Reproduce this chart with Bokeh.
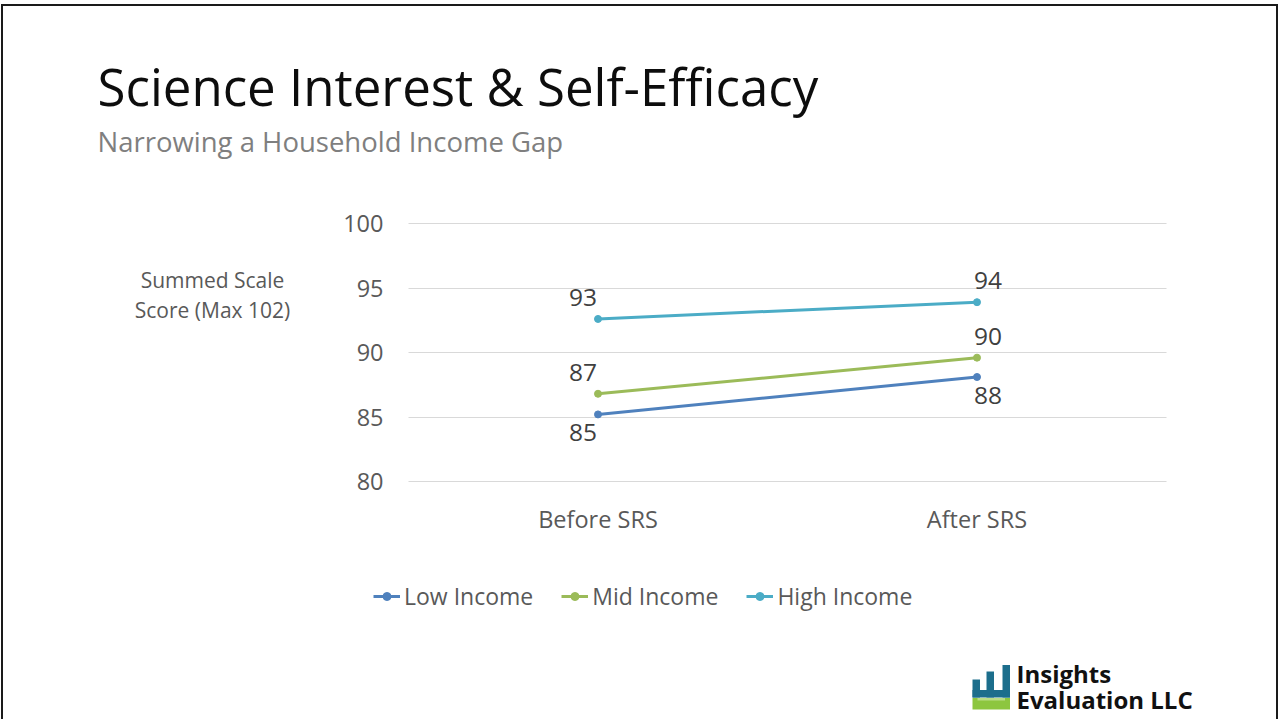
from bokeh.plotting import figure
from bokeh.models import (ColumnDataSource, Range1d, Label, LabelSet, Legend, LegendItem,
                          BoxAnnotation, FixedTicker, Grid, InlineStyleSheet)
from bokeh.core.properties import value
from bokeh.embed import file_html
from bokeh.resources import INLINE

# ---- data ----
categories = ["Before SRS", "After SRS"]
low_income = [85.2, 88.1]
mid_income = [86.8, 89.6]
high_income = [92.6, 93.9]
series_names = ["Low Income", "Mid Income", "High Income"]
series_colors = ["#4F81BD", "#9BBB59", "#4BACC6"]
y_ticks = [80, 85, 90, 95, 100]
y_min, y_max = 80, 100

FONT = "Open Sans"
W, H = 1279, 719

# ---- layout geometry (page pixels) ----
FL, FT = 70, 45            # frame left / top (frame runs to the right and bottom edge)
PLOT_L, PLOT_R = 408, 1166  # chart area
PLOT_T, PLOT_B = 223, 481
CAT0_X = PLOT_L + (PLOT_R - PLOT_L) * 0.25
CAT_STEP = (PLOT_R - PLOT_L) * 0.5
PX_Y = (PLOT_B - PLOT_T) / (y_max - y_min)

xs = list(range(len(categories)))
x_start = -(CAT0_X - FL) / CAT_STEP
x_end = (W - CAT0_X) / CAT_STEP
y_start = y_min - (H - PLOT_B) / PX_Y
y_end = y_max + (PLOT_T - FT) / PX_Y


def sx(px):
    return px - FL


def sy(py):
    return H - py


border_css = InlineStyleSheet(css="""
:host::after {
  content: "";
  position: absolute;
  left: 1px; top: 3.5px; width: 1277px; height: 715.5px;
  box-sizing: border-box;
  border: 2.5px solid #1A1A1A;
  border-bottom: none;
  pointer-events: none;
  z-index: 1000;
}
""")

p = figure(width=W, height=H, x_range=Range1d(x_start, x_end),
           y_range=Range1d(y_start, y_end), x_axis_location="above",
           output_backend="svg", toolbar_location=None,
           min_border_left=FL, min_border_right=0, min_border_top=FT,
           min_border_bottom=0)
p.stylesheets = [border_css]
p.outline_line_color = None
p.background_fill_color = "white"
p.border_fill_color = "white"

p.xgrid.grid_line_color = None
p.ygrid.grid_line_color = None

# y axis sits at the left edge of the chart area
yax = p.yaxis[0]
yax.ticker = FixedTicker(ticks=y_ticks)
yax.fixed_location = -0.5
yax.bounds = (y_min, y_max)
yax.major_label_standoff = 25

# x axis (labels drawn upward from a line placed just under the category labels)
xax = p.xaxis[0]
xax.ticker = FixedTicker(ticks=xs)
xax.major_label_overrides = {i: c for i, c in enumerate(categories)}
xax.fixed_location = y_min - (540 - PLOT_B) / PX_Y
xax.major_label_standoff = 6

for ax in (xax, yax):
    ax.axis_line_color = None
    ax.major_tick_line_color = None
    ax.minor_tick_line_color = None
    ax.major_tick_out = 0
    ax.major_tick_in = 0
    ax.minor_tick_out = 0
    ax.major_label_text_font = FONT
    ax.major_label_text_font_size = "23.5px"
    ax.major_label_text_color = "#595959"

grid = Grid(dimension=1, ticker=FixedTicker(ticks=y_ticks), grid_line_color="#D9D9D9",
            grid_line_width=1)
if "cross_bounds" in Grid.properties():
    grid.cross_bounds = (-0.5, len(categories) - 0.5)
    p.add_layout(grid)
else:
    p.segment(x0=[-0.5] * len(y_ticks), x1=[len(categories) - 0.5] * len(y_ticks),
              y0=y_ticks, y1=y_ticks, line_color="#D9D9D9", line_width=1)

all_series = [low_income, mid_income, high_income]
renderers = []
lab_offsets = {
    "Low Income": (-10, "top"),
    "Mid Income": (13, "bottom"),
    "High Income": (13, "bottom"),
}
for name, vals, col in zip(series_names, all_series, series_colors):
    dy, base = lab_offsets[name]
    src = ColumnDataSource(dict(x=xs, y=vals,
                                lab=[str(int(round(v))) for v in vals],
                                dx=[-15, 11], dy=[dy, dy]))
    r = p.line("x", "y", source=src, line_color=col, line_width=3)
    s = p.scatter("x", "y", source=src, size=7, fill_color=col, line_color=col)
    renderers.append((name, [r, s]))
    p.add_layout(LabelSet(x="x", y="y", text="lab", source=src,
                          x_offset="dx", y_offset="dy",
                          text_align="center", text_baseline=base,
                          text_font=value(FONT), text_font_size=value("24.5px"),
                          text_color="#404040"))

legend = Legend(items=[LegendItem(label=n, renderers=rs) for n, rs in renderers],
                orientation="horizontal", location=(sx(373), sy(612)),
                label_text_font=FONT, label_text_font_size="23px",
                label_text_color="#595959", glyph_width=27, glyph_height=20,
                spacing=28, label_standoff=4, background_fill_alpha=0,
                border_line_color=None, padding=0, margin=0)
p.add_layout(legend, "center")


def slabel(px, py, text, size, color, align="left", style="normal"):
    p.add_layout(Label(x=sx(px), y=sy(py), x_units="screen", y_units="screen", text=text,
                       text_font=FONT, text_font_size=size, text_color=color,
                       text_align=align, text_baseline="alphabetic",
                       text_font_style=style))


slabel(97, 85, "Science Interest & Self-Efficacy", "51px", "#0D0D0D")
slabel(97, 141, "Narrowing a Household Income Gap", "27.5px", "#7F7F7F")
slabel(212, 279, "Summed Scale", "21px", "#595959", align="center")
slabel(212, 309, "Score (Max 102)", "21px", "#595959", align="center")

# logo text
slabel(1016, 673, "Insights", "24px", "#111111", style="bold")
slabel(1016, 699, "Evaluation LLC", "24px", "#111111", style="bold")


def sbox(x0, y0, x1, y1, fill):
    p.add_layout(BoxAnnotation(left=sx(x0), right=sx(x1), top=sy(y0), bottom=sy(y1),
                               left_units="screen", right_units="screen",
                               top_units="screen", bottom_units="screen",
                               fill_color=fill, fill_alpha=1, line_color=None,
                               editable=False))


# logo icon
TEAL, GREEN = "#1C6E8C", "#8DC63F"
sbox(972, 679, 979.5, 697, TEAL)
sbox(986, 671, 993.5, 697, TEAL)
sbox(1002, 664.5, 1009.5, 697, TEAL)
sbox(972, 689.5, 1009.5, 697, TEAL)
sbox(972, 697.5, 1009.5, 709, GREEN)
sbox(977, 697.5, 1004.5, 700, "#B9DD86")

out = open("out.html", "w")
out.write(file_html(p, INLINE))
out.close()
